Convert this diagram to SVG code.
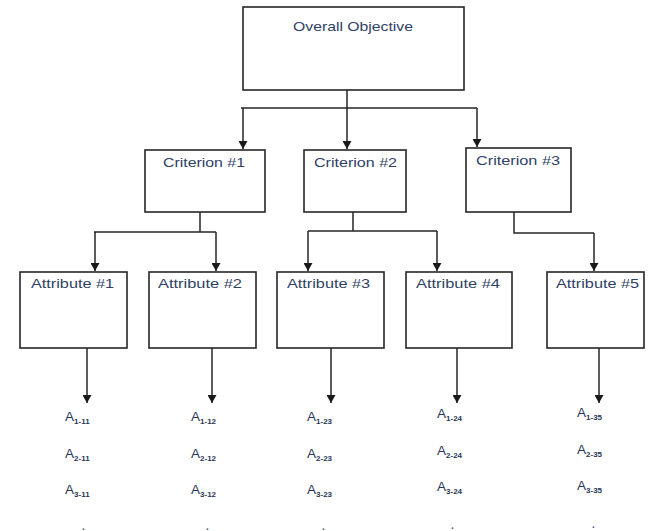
<svg xmlns="http://www.w3.org/2000/svg" width="652" height="531" viewBox="0 0 652 531">
<defs>
<style>
.box{fill:#fff;stroke:#262626;stroke-width:1.6}
.ln{fill:none;stroke:#262626;stroke-width:1.5}
.ar{fill:none;stroke:#262626;stroke-width:1.5;marker-end:url(#ah)}
.t{font-family:"Liberation Sans",Arial,sans-serif;font-size:13.5px;fill:#2f3f66}
.a{font-family:"Liberation Sans",Arial,sans-serif;font-size:13.5px;fill:#2a3656}
.s{font-size:8px;font-weight:bold}
.d{font-family:"Liberation Sans",Arial,sans-serif;font-size:10px;font-weight:bold;fill:#4a5a85}
</style>
<marker id="ah" markerWidth="8" markerHeight="9" refX="8" refY="4.5" orient="auto" markerUnits="userSpaceOnUse">
<path d="M0,0 L8,4.5 L0,9 z" fill="#1a1a1a"/>
</marker>
</defs>
<g id="connectors">
<path class="ln" d="M347,90 V108 M241,108 H477"/>
<path class="ar" d="M243,108 V149"/>
<path class="ar" d="M347,108 V149"/>
<path class="ar" d="M477,108 V147"/>
<path class="ln" d="M200,212 V232 M94,232 H216"/>
<path class="ar" d="M95,232 V271"/>
<path class="ar" d="M216,232 V271"/>
<path class="ln" d="M353,212 V231 M308,231 H437"/>
<path class="ar" d="M308,231 V271"/>
<path class="ar" d="M437,231 V271"/>
<path class="ln" d="M514,212 V233 H594"/>
<path class="ar" d="M594,233 V271"/>
<path class="ar" d="M87,348 V403"/>
<path class="ar" d="M212,348 V403"/>
<path class="ar" d="M331,348 V403"/>
<path class="ar" d="M457,348 V403"/>
<path class="ar" d="M599,348 V403"/>
</g>
<g id="overall">
<rect class="box" x="243" y="7" width="221" height="83"/>
<text class="t" x="293" y="31" textLength="120" lengthAdjust="spacingAndGlyphs">Overall Objective</text>
</g>
<g id="criterion1">
<rect class="box" x="145" y="150" width="120" height="62"/>
<text class="t" x="163" y="167" textLength="82" lengthAdjust="spacingAndGlyphs">Criterion #1</text>
</g>
<g id="criterion2">
<rect class="box" x="304" y="150" width="102" height="62"/>
<text class="t" x="314" y="167" textLength="83" lengthAdjust="spacingAndGlyphs">Criterion #2</text>
</g>
<g id="criterion3">
<rect class="box" x="466" y="148" width="105" height="64"/>
<text class="t" x="476" y="165" textLength="84" lengthAdjust="spacingAndGlyphs">Criterion #3</text>
</g>
<g id="attribute1">
<rect class="box" x="20" y="272" width="107" height="76"/>
<text class="t" x="31" y="288" textLength="83" lengthAdjust="spacingAndGlyphs">Attribute #1</text>
</g>
<g id="attribute2">
<rect class="box" x="149" y="272" width="107" height="76"/>
<text class="t" x="158" y="288" textLength="84" lengthAdjust="spacingAndGlyphs">Attribute #2</text>
</g>
<g id="attribute3">
<rect class="box" x="277" y="272" width="107" height="76"/>
<text class="t" x="287" y="288" textLength="83" lengthAdjust="spacingAndGlyphs">Attribute #3</text>
</g>
<g id="attribute4">
<rect class="box" x="406" y="272" width="106" height="76"/>
<text class="t" x="416" y="288" textLength="84" lengthAdjust="spacingAndGlyphs">Attribute #4</text>
</g>
<g id="attribute5">
<rect class="box" x="547" y="272" width="97" height="76"/>
<text class="t" x="556" y="288" textLength="83" lengthAdjust="spacingAndGlyphs">Attribute #5</text>
</g>
<g id="alternatives1">
<text class="a" x="65" y="421">A<tspan class="s" dy="3">1-11</tspan></text>
<text class="a" x="65" y="458">A<tspan class="s" dy="3">2-11</tspan></text>
<text class="a" x="65" y="494">A<tspan class="s" dy="3">3-11</tspan></text>
<text class="d" x="82" y="530">.</text>
</g>
<g id="alternatives2">
<text class="a" x="191" y="421">A<tspan class="s" dy="3">1-12</tspan></text>
<text class="a" x="191" y="458">A<tspan class="s" dy="3">2-12</tspan></text>
<text class="a" x="191" y="494">A<tspan class="s" dy="3">3-12</tspan></text>
<text class="d" x="206" y="530">.</text>
</g>
<g id="alternatives3">
<text class="a" x="307" y="421">A<tspan class="s" dy="3">1-23</tspan></text>
<text class="a" x="307" y="458">A<tspan class="s" dy="3">2-23</tspan></text>
<text class="a" x="307" y="494">A<tspan class="s" dy="3">3-23</tspan></text>
<text class="d" x="322" y="530">.</text>
</g>
<g id="alternatives4">
<text class="a" x="437" y="418">A<tspan class="s" dy="3">1-24</tspan></text>
<text class="a" x="437" y="455">A<tspan class="s" dy="3">2-24</tspan></text>
<text class="a" x="437" y="491">A<tspan class="s" dy="3">3-24</tspan></text>
<text class="d" x="451" y="529">.</text>
</g>
<g id="alternatives5">
<text class="a" x="577" y="417">A<tspan class="s" dy="3">1-35</tspan></text>
<text class="a" x="577" y="454">A<tspan class="s" dy="3">2-35</tspan></text>
<text class="a" x="577" y="490">A<tspan class="s" dy="3">3-35</tspan></text>
<text class="d" x="592" y="528">.</text>
</g>
</svg>
